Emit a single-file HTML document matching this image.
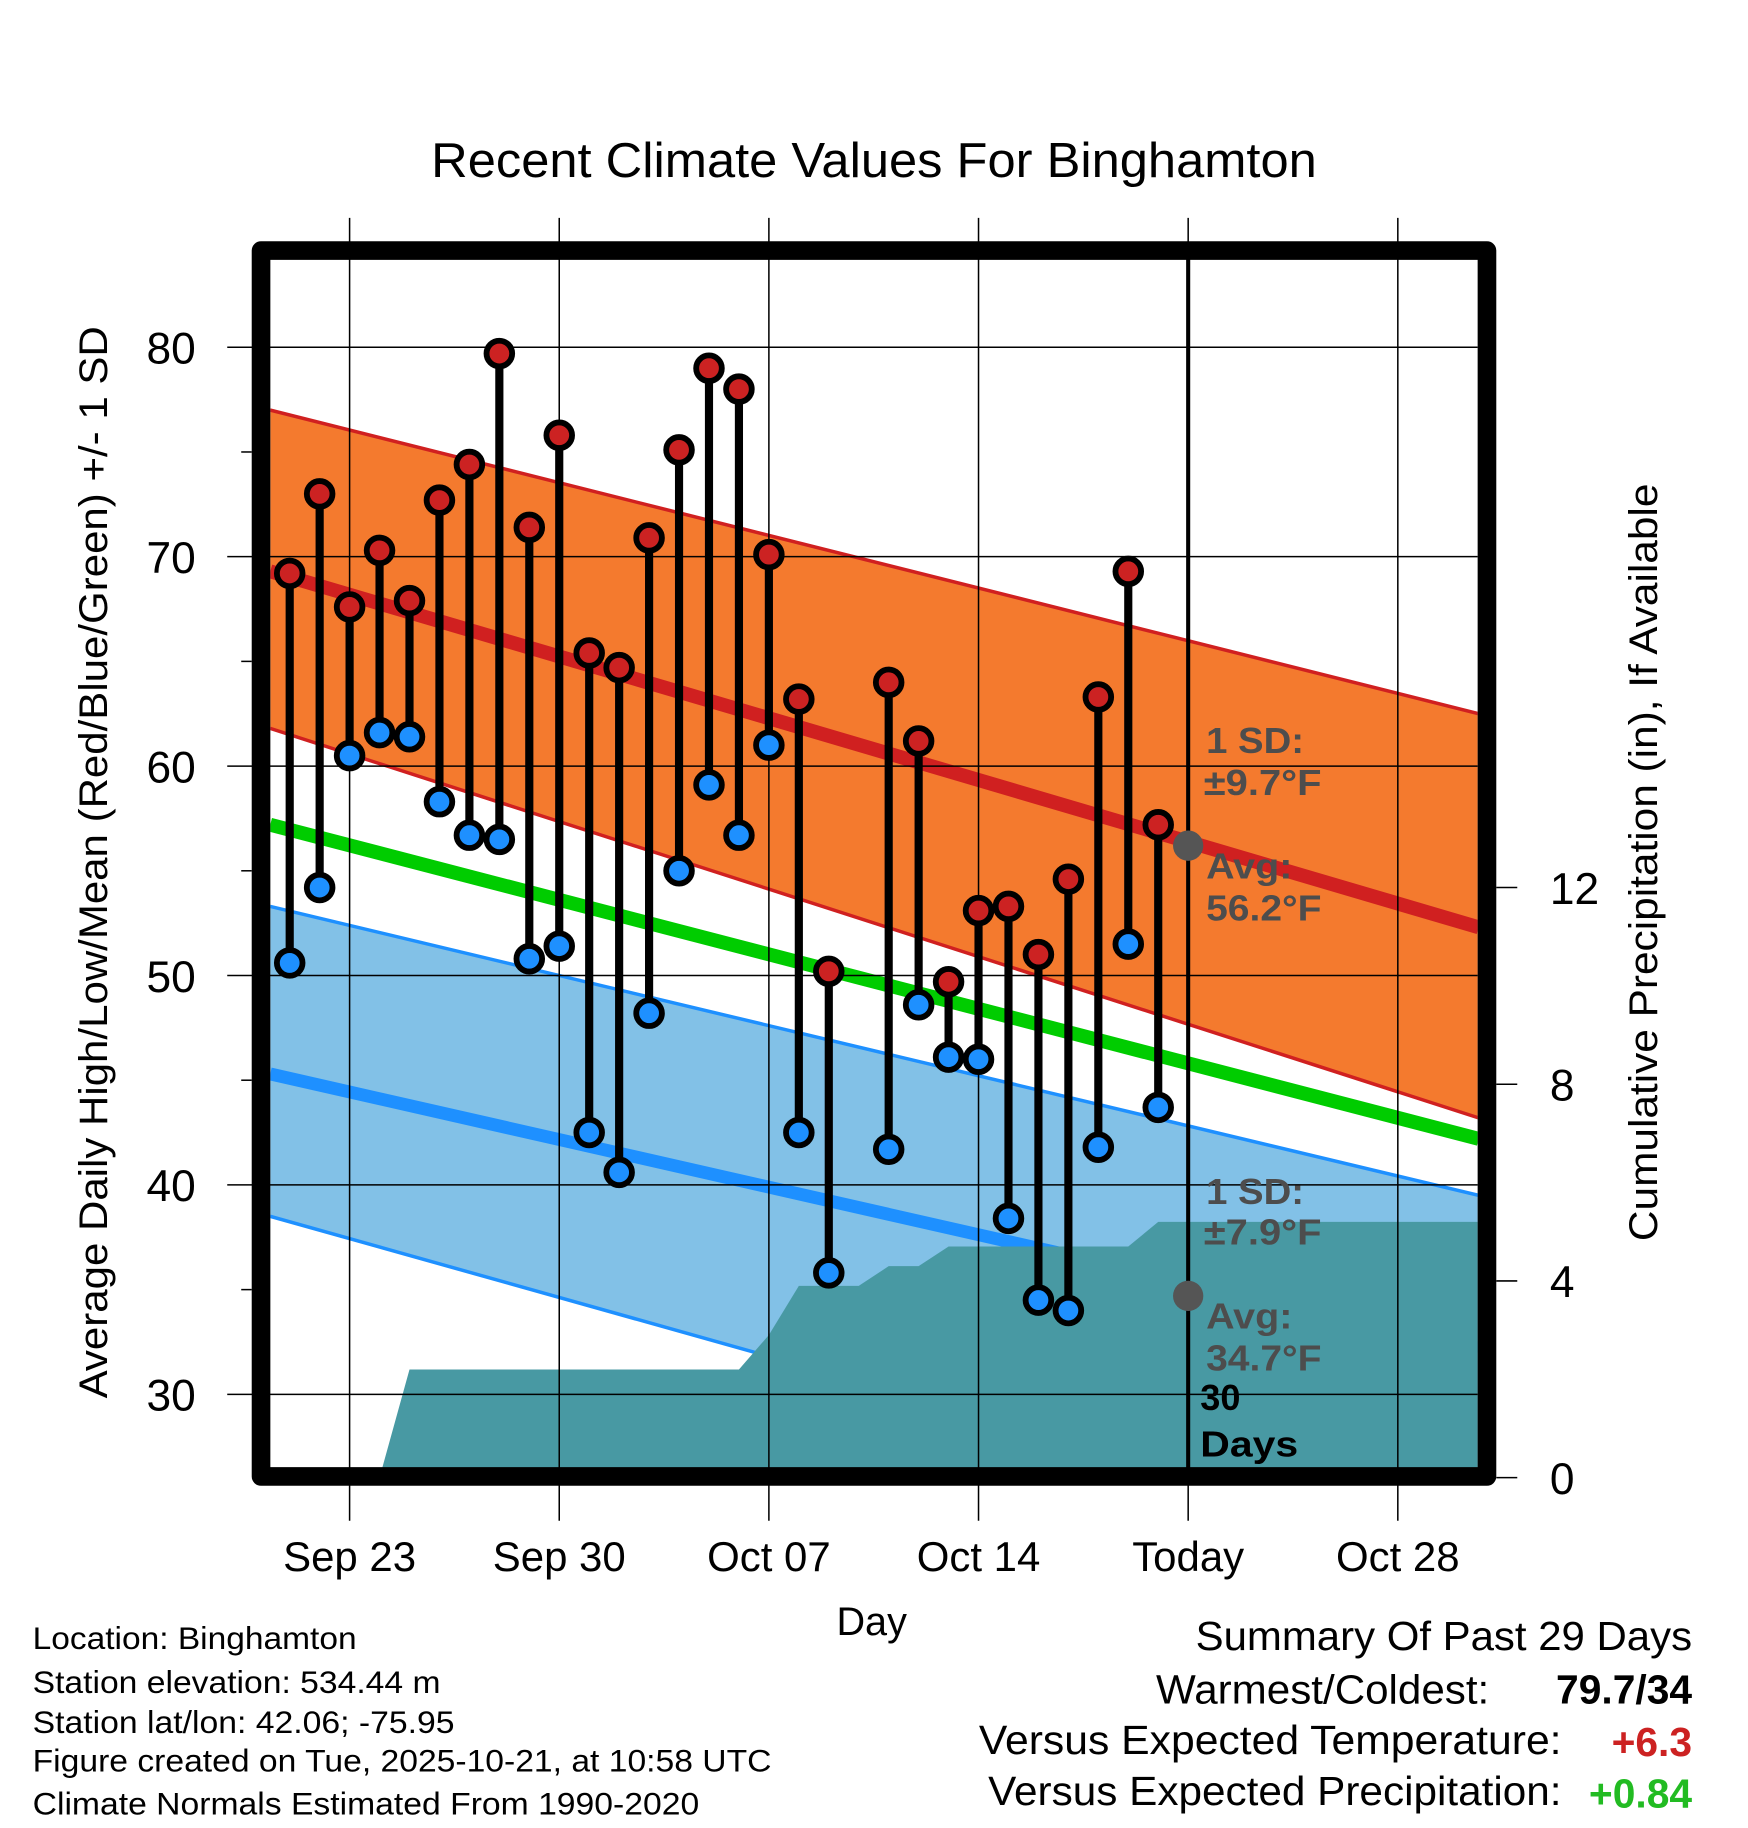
<!DOCTYPE html>
<html><head><meta charset="utf-8"><style>
html,body{margin:0;padding:0;background:#fff;}
svg{display:block;font-family:"Liberation Sans",sans-serif;}
</style></head><body>
<svg id="chart" width="1748" height="1828" viewBox="0 0 1500 1568.65" xmlns="http://www.w3.org/2000/svg"></svg>
<script>
// ---- data ----
const dayLabels = ["Sep 23","Sep 30","Oct 07","Oct 14","Today","Oct 28"];
const dayTicks = [0,7,14,21,28,35];
const days = [-2,-1,0,1,2,3,4,5,6,7,8,9,10,11,12,13,14,15,16,17,18,19,20,21,22,23,24,25,26,27];
const highs = [69.2,73.0,67.6,70.3,67.9,72.7,74.4,79.7,71.4,75.8,65.4,64.7,70.9,75.1,79.0,78.0,70.1,63.2,50.2,null,64.0,61.2,49.7,53.1,53.3,51.0,54.6,63.3,69.3,57.2];
const lows  = [50.6,54.2,60.5,61.6,61.4,58.3,56.7,56.5,50.8,51.4,42.5,40.6,48.2,55.0,59.1,56.7,61.0,42.5,35.8,null,41.7,48.6,46.1,46.0,38.4,34.5,34.0,41.8,51.5,43.7];
const precipDays = [-2,-1,0,1,2,3,4,5,6,7,8,9,10,11,12,13,14,15,16,17,18,19,20,21,22,23,24,25,26,27,37.7];
const precip = [0,0,0,0,2.2,2.2,2.2,2.2,2.2,2.2,2.2,2.2,2.2,2.2,2.2,2.2,2.9,3.9,3.9,3.9,4.3,4.3,4.7,4.7,4.7,4.7,4.7,4.7,4.7,5.2,5.2];
const normDays = [-2.65,37.7];
const normHigh = [69.3,52.3];
const normHighUp = [77.0,62.5];
const normHighLo = [61.8,43.2];
const normMean = [57.2,42.2];
const normLow = [45.3,32.2];
const normLowUp = [53.3,39.5];
const normLowLo = [38.5,22.3];
const yTicks = [30,40,50,60,70,80];
const pTicks = [0,4,8,12];
const todayAvgHigh = 56.2, todayAvgLow = 34.7, todayDay = 28;

// ---- scales ----
const X = d => 300 + 25.7*d;
const Y = v => 298 + (80 - v)*17.97;
const P = p => 1268 - p*42.2;
const L=232,R=1268,T=222,B=1260;
const NS="http://www.w3.org/2000/svg";
const svg=document.getElementById('chart');
function mk(tag,attrs,parent){const e=document.createElementNS(NS,tag);for(const k in attrs)e.setAttribute(k,attrs[k]);(parent||svg).appendChild(e);return e;}

const defs=mk('defs',{});
const cp=mk('clipPath',{id:'plotclip'},defs);
mk('rect',{x:L,y:T,width:R-L,height:B-T},cp);

function txt(x,y,s,str,opts,name){const e=mk('text',Object.assign({x:x,y:y,'font-size':s},opts||{}));e.textContent=str;
return e;}
const fit=w=>({textLength:w,lengthAdjust:'spacingAndGlyphs'});

// title
txt(750,152,42,"Recent Climate Values For Binghamton",Object.assign({'text-anchor':'middle'},fit(760)),'chart-title');

const plot=mk('g',{'clip-path':'url(#plotclip)'});


function band(up,lo,fill,stroke,name){
  const pts=`${X(normDays[0])},${Y(up[0])} ${X(normDays[1])},${Y(up[1])} ${X(normDays[1])},${Y(lo[1])} ${X(normDays[0])},${Y(lo[0])}`;
  const g=mk('polygon',{points:pts,fill:fill},plot);
  
  [up,lo].forEach(a=>mk('line',{x1:X(normDays[0]),y1:Y(a[0]),x2:X(normDays[1]),y2:Y(a[1]),stroke:stroke,'stroke-width':3},plot));
}
band(normHighUp,normHighLo,'#f47a2e','#d02020','high-sd-band');
band(normLowUp,normLowLo,'#82c1e7','#1e90ff','low-sd-band');
function nline(a,c,w,name){const l=mk('line',{x1:X(normDays[0]),y1:Y(a[0]),x2:X(normDays[1]),y2:Y(a[1]),stroke:c,'stroke-width':w},plot);
}
nline(normHigh,'#d02020',12,'normal-high-line');
nline(normMean,'#00cc00',12,'normal-mean-line');
nline(normLow,'#1e90ff',11,'normal-low-line');

// gridlines
const grid=mk('g',{});

dayTicks.forEach(d=>mk('line',{x1:X(d),y1:187,x2:X(d),y2:1305,stroke:'#000','stroke-width':1.3},grid));
yTicks.forEach(v=>mk('line',{x1:195,y1:Y(v),x2:R,y2:Y(v),stroke:'#000','stroke-width':1.3},grid));
[35,45,55,65,75].forEach(v=>mk('line',{x1:207,y1:Y(v),x2:216,y2:Y(v),stroke:'#000','stroke-width':1.3},grid));

// precip area
let pp=`${X(precipDays[0])},${P(0)} `;
precipDays.forEach((d,i)=>{pp+=`${X(d)},${P(precip[i])} `;});
pp+=`${X(precipDays[precipDays.length-1])},${P(0)}`;
const pa=mk('polygon',{points:pp,fill:'#4899a3'},plot);


// today line
const tl=mk('line',{x1:X(todayDay),y1:T-5,x2:X(todayDay),y2:B+5,stroke:'#000','stroke-width':3.5});


// stems and dots
days.forEach((d,i)=>{
  if(highs[i]==null) return;
  const g=mk('g',{});
  
  mk('line',{x1:X(d),y1:Y(highs[i]),x2:X(d),y2:Y(lows[i]),stroke:'#000','stroke-width':7},g);
  const h=mk('circle',{cx:X(d),cy:Y(highs[i]),r:11,fill:'#cc2222',stroke:'#000','stroke-width':5},g);
  
  const lo=mk('circle',{cx:X(d),cy:Y(lows[i]),r:11,fill:'#1e90ff',stroke:'#000','stroke-width':5},g);
  
});

// today avg markers
const ah=mk('circle',{cx:X(todayDay),cy:Y(todayAvgHigh),r:13,fill:'#555'});

const al=mk('circle',{cx:X(todayDay),cy:Y(todayAvgLow),r:13,fill:'#555'});


// annotations
const ann={fill:'#4d4d4d','font-weight':'bold'};
txt(1035,646,31,'1 SD:',Object.assign({},ann,fit(84)),'high-sd-label');
txt(1033,682,31,'±9.7°F',Object.assign({},ann,fit(101)),'high-sd-value');
txt(1035,754,31,'Avg:',Object.assign({},ann,fit(74)),'high-avg-label');
txt(1035,790,31,'56.2°F',Object.assign({},ann,fit(99)),'high-avg-value');
txt(1035,1033,31,'1 SD:',Object.assign({},ann,fit(84)),'low-sd-label');
txt(1033,1068,31,'±7.9°F',Object.assign({},ann,fit(101)),'low-sd-value');
txt(1035,1140,31,'Avg:',Object.assign({},ann,fit(74)),'low-avg-label');
txt(1035,1176,31,'34.7°F',Object.assign({},ann,fit(99)),'low-avg-value');
txt(1030,1210,31,'30',{fill:'#000','font-weight':'bold'},'days-count');
txt(1030,1250,31,'Days',Object.assign({fill:'#000','font-weight':'bold'},fit(84)),'days-label');

// frame
const fr=mk('rect',{x:224,y:215,width:1052,height:1052,fill:'none',stroke:'#000','stroke-width':16,'stroke-linejoin':'round'});


// y tick labels
yTicks.forEach(v=>txt(168,Y(v)+14,38,String(v),{'text-anchor':'end'},'y-tick-label'));
// right precip axis
pTicks.forEach(p=>{mk('line',{x1:1284,y1:P(p),x2:1302,y2:P(p),stroke:'#000','stroke-width':1.3});
  txt(1330,P(p)+14,38,String(p),{},'precip-tick-label');});
// x labels
dayLabels.forEach((s,i)=>txt(X(dayTicks[i]),1348,36,s,{'text-anchor':'middle'},'x-tick-label'));
txt(748,1403,34,'Day',{'text-anchor':'middle'},'x-axis-title');
txt(0,0,34,'Average Daily High/Low/Mean (Red/Blue/Green) +/- 1 SD',Object.assign({'text-anchor':'middle',transform:'translate(92,740) rotate(-90)'},fit(920)),'y-axis-title');
txt(0,0,34,'Cumulative Precipitation (in), If Available',Object.assign({'text-anchor':'middle',transform:'translate(1422,740) rotate(-90)'},fit(650)),'precip-axis-title');

// footer
const foot=['Location: Binghamton','Station elevation: 534.44 m','Station lat/lon: 42.06; -75.95','Figure created on Tue, 2025-10-21, at 10:58 UTC','Climate Normals Estimated From 1990-2020'];
const footW=[278,350,362,634,572];
const footY=[1415,1453,1487,1520,1557];
foot.forEach((s,i)=>txt(28,footY[i],27,s,fit(footW[i]),'footer-info'));
txt(1026,1416,35,'Summary Of Past 29 Days',fit(426),'summary-title');
txt(992,1462,35,'Warmest/Coldest:',fit(286),'warmest-coldest-label');
txt(1452,1462,35,'79.7/34',{'text-anchor':'end','font-weight':'bold'},'warmest-coldest-value');
txt(840,1505,35,'Versus Expected Temperature:',fit(500),'temp-departure-label');
txt(1452,1507,35,'+6.3',{'text-anchor':'end','font-weight':'bold',fill:'#cc2222'},'temp-departure-value');
txt(848,1549,35,'Versus Expected Precipitation:',fit(492),'precip-departure-label');
txt(1452,1551,35,'+0.84',{'text-anchor':'end','font-weight':'bold',fill:'#22bb22'},'precip-departure-value');
</script>
</body></html>
